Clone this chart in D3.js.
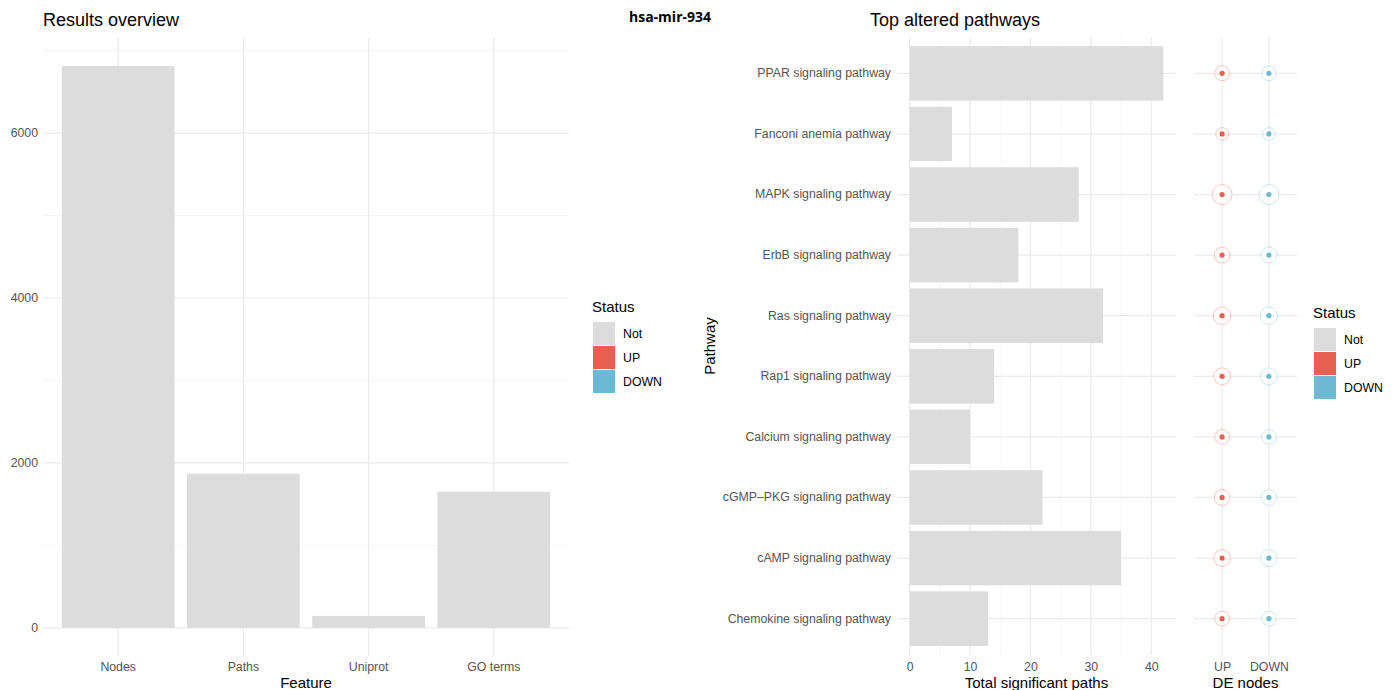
<!DOCTYPE html>
<html lang="en">
<head>
    <meta charset="UTF-8">
    <title>hsa-mir-934</title>
    <script src="https://d3js.org/d3.v7.min.js"></script>
    <style>
        body { margin: 0; background: #fff; }
        text { font-family: "Liberation Sans", Arial, sans-serif; }
    </style>
</head>
<body>

    <svg width="1397" height="690"></svg>

</body>

<script>

    // data
    var features = ['Nodes', 'Paths', 'Uniprot', 'GO terms'];
    var featureCounts = [6812, 1870, 146, 1651];

    var pathways = ['PPAR signaling pathway', 'Fanconi anemia pathway', 'MAPK signaling pathway',
        'ErbB signaling pathway', 'Ras signaling pathway', 'Rap1 signaling pathway',
        'Calcium signaling pathway', 'cGMP\u2013PKG signaling pathway', 'cAMP signaling pathway',
        'Chemokine signaling pathway'];
    var sigPaths = [42, 7, 28, 18, 32, 14, 10, 22, 35, 13];
    var pathwayNodes = [81, 50, 190, 99, 132, 119, 81, 99, 119, 81]; // outer circle size
    var deGroups = ['UP', 'DOWN'];
    var statusKeys = ['Not', 'UP', 'DOWN'];
    var yTicksLeft = [0, 2000, 4000, 6000];
    var xTicksRight = [0, 10, 20, 30, 40];

    var colors = { Not: '#dcdcdc', UP: '#e8604f', DOWN: '#6bb9d5' };
    var gridMajor = '#ebebeb';
    var tickColor = '#555';
    var fontStack = '"Liberation Sans", Arial, sans-serif';

    var svg = d3.select('svg');

    function styleTicks(sel) {
        sel.select('.domain').remove();
        sel.selectAll('text').attr('fill', tickColor)
            .style('font-size', '12.3px').style('font-family', fontStack);
    }

    // ---------- left panel: results overview ----------
    var L = { left: 43, right: 569, top: 38, bottom: 656 };

    var xL = d3.scaleBand().domain(features).range([L.left, L.right])
        .paddingInner(0.1).paddingOuter(0.15);
    var maxL = d3.max(featureCounts);
    var yL = d3.scaleLinear().domain([-maxL * 0.05, maxL * 1.05]).range([L.bottom, L.top]);

    var gL = svg.append('g');
    // minor grid
    gL.selectAll('.minor').data([1000, 3000, 5000, 7000]).enter().append('line')
        .attr('x1', L.left).attr('x2', L.right)
        .attr('y1', function (d) { return yL(d); }).attr('y2', function (d) { return yL(d); })
        .attr('stroke', '#f2f2f2').attr('stroke-width', 0.7);
    // major grid
    gL.selectAll('.hmaj').data(yTicksLeft).enter().append('line')
        .attr('x1', L.left).attr('x2', L.right)
        .attr('y1', function (d) { return yL(d); }).attr('y2', function (d) { return yL(d); })
        .attr('stroke', gridMajor).attr('stroke-width', 1.2);
    gL.selectAll('.vmaj').data(features).enter().append('line')
        .attr('x1', function (d) { return xL(d) + xL.bandwidth() / 2; })
        .attr('x2', function (d) { return xL(d) + xL.bandwidth() / 2; })
        .attr('y1', L.top).attr('y2', L.bottom)
        .attr('stroke', gridMajor).attr('stroke-width', 1.2);

    gL.selectAll('rect').data(featureCounts).enter().append('rect')
        .attr('x', function (d, i) { return xL(features[i]); })
        .attr('y', function (d) { return yL(d); })
        .attr('width', xL.bandwidth())
        .attr('height', function (d) { return yL(0) - yL(d); })
        .attr('fill', colors.Not);

    // axes text
    var axisL = d3.axisLeft(yL).tickValues(yTicksLeft).tickFormat(d3.format('d'))
        .tickSize(0).tickPadding(0);
    gL.append('g').attr('transform', 'translate(38,0)').call(axisL).call(styleTicks);

    var axisLB = d3.axisBottom(xL).tickSize(0).tickPadding(0);
    gL.append('g').attr('transform', 'translate(0,662)').call(axisLB).call(styleTicks);

    gL.append('text').attr('x', (L.left + L.right) / 2).attr('y', 688)
        .attr('text-anchor', 'middle').style('font-size', '15px').text('Feature');
    gL.append('text').attr('x', 43).attr('y', 26)
        .style('font-size', '18px').text('Results overview');

    // ---------- legends ----------
    function legend(x, y) {
        var g = svg.append('g').attr('transform', 'translate(' + x + ',' + y + ')');
        g.append('text').attr('x', 0).attr('y', 0).style('font-size', '15px').text('Status');
        var it = g.selectAll('.item').data(statusKeys).enter().append('g')
            .attr('transform', function (d, i) { return 'translate(1,' + (10 + i * 24) + ')'; });
        it.append('rect').attr('width', 22).attr('height', 23)
            .attr('fill', function (d) { return colors[d]; });
        it.append('text').attr('x', 30).attr('y', 16).style('font-size', '12.3px').text(function (d) { return d; });
    }
    legend(592, 312);
    legend(1313, 318);

    // center title
    svg.append('text').attr('x', 670).attr('y', 22).attr('text-anchor', 'middle')
        .style('font-family', '"Open Sans", "Noto Sans", sans-serif')
        .style('font-weight', 'bold').style('font-size', '14px').text('hsa-mir-934');

    // ---------- right panel: top altered pathways ----------
    var R = { left: 897, right: 1176, top: 37, bottom: 655 };
    var maxR = d3.max(sigPaths);
    var xR = d3.scaleLinear().domain([-maxR * 0.05, maxR * 1.05]).range([R.left, R.right]);
    var yR = d3.scaleBand().domain(pathways).range([R.top, R.bottom])
        .paddingInner(0.1).paddingOuter(0.15);

    var gR = svg.append('g');
    gR.selectAll('.vmin').data([5, 15, 25, 35]).enter().append('line')
        .attr('x1', function (d) { return xR(d); }).attr('x2', function (d) { return xR(d); })
        .attr('y1', R.top).attr('y2', R.bottom)
        .attr('stroke', '#f2f2f2').attr('stroke-width', 0.7);
    gR.selectAll('.vmaj').data(xTicksRight).enter().append('line')
        .attr('x1', function (d) { return xR(d); }).attr('x2', function (d) { return xR(d); })
        .attr('y1', R.top).attr('y2', R.bottom)
        .attr('stroke', gridMajor).attr('stroke-width', 1.2);
    gR.selectAll('.hmaj').data(pathways).enter().append('line')
        .attr('x1', R.left).attr('x2', R.right)
        .attr('y1', function (d) { return yR(d) + yR.bandwidth() / 2; })
        .attr('y2', function (d) { return yR(d) + yR.bandwidth() / 2; })
        .attr('stroke', gridMajor).attr('stroke-width', 1.2);

    gR.selectAll('rect').data(sigPaths).enter().append('rect')
        .attr('x', xR(0))
        .attr('y', function (d, i) { return yR(pathways[i]); })
        .attr('width', function (d) { return xR(d) - xR(0); })
        .attr('height', yR.bandwidth())
        .attr('fill', colors.Not);

    var axisRL = d3.axisLeft(yR).tickSize(0).tickPadding(0);
    gR.append('g').attr('transform', 'translate(891,0)').call(axisRL).call(styleTicks);

    var axisRB = d3.axisBottom(xR).tickValues(xTicksRight).tickSize(0).tickPadding(0);
    gR.append('g').attr('transform', 'translate(0,662)').call(axisRB).call(styleTicks);

    gR.append('text').attr('x', (R.left + R.right) / 2).attr('y', 688)
        .attr('text-anchor', 'middle').style('font-size', '15px').text('Total significant paths');
    gR.append('text').attr('transform', 'translate(715,' + ((R.top + R.bottom) / 2) + ') rotate(-90)')
        .attr('text-anchor', 'middle').style('font-size', '15px').text('Pathway');
    gR.append('text').attr('x', 870).attr('y', 26)
        .style('font-size', '18px').text('Top altered pathways');

    // ---------- DE nodes dot panel ----------
    var D = { left: 1194, right: 1297 };
    var xD = d3.scalePoint().domain(deGroups).range([D.left, D.right]).padding(0.6);
    var rD = d3.scaleSqrt().domain([d3.min(pathwayNodes), d3.max(pathwayNodes)]).range([6.3, 10]);

    var gD = svg.append('g');
    gD.selectAll('.v').data(deGroups).enter().append('line')
        .attr('x1', function (d) { return xD(d); }).attr('x2', function (d) { return xD(d); })
        .attr('y1', R.top).attr('y2', R.bottom)
        .attr('stroke', gridMajor).attr('stroke-width', 1.2);
    gD.selectAll('.h').data(pathways).enter().append('line')
        .attr('x1', D.left).attr('x2', D.right)
        .attr('y1', function (d) { return yR(d) + yR.bandwidth() / 2; })
        .attr('y2', function (d) { return yR(d) + yR.bandwidth() / 2; })
        .attr('stroke', gridMajor).attr('stroke-width', 1.2);

    deGroups.forEach(function (grp) {
        var cells = gD.selectAll('.c' + grp).data(pathways).enter().append('g')
            .attr('transform', function (d) {
                return 'translate(' + xD(grp) + ',' + (yR(d) + yR.bandwidth() / 2) + ')';
            });
        cells.append('circle')
            .attr('r', function (d, i) { return rD(pathwayNodes[i]); })
            .attr('fill', '#fff').attr('fill-opacity', 0.6)
            .attr('stroke', colors[grp]).attr('stroke-opacity', 0.35).attr('stroke-width', 1);
        cells.append('circle').attr('r', 2.6).attr('fill', colors[grp]);
    });

    var axisDB = d3.axisBottom(xD).tickSize(0).tickPadding(0);
    gD.append('g').attr('transform', 'translate(0,662)').call(axisDB).call(styleTicks);
    gD.append('text').attr('x', (D.left + D.right) / 2).attr('y', 688)
        .attr('text-anchor', 'middle').style('font-size', '15px').text('DE nodes');

</script>

</html>
